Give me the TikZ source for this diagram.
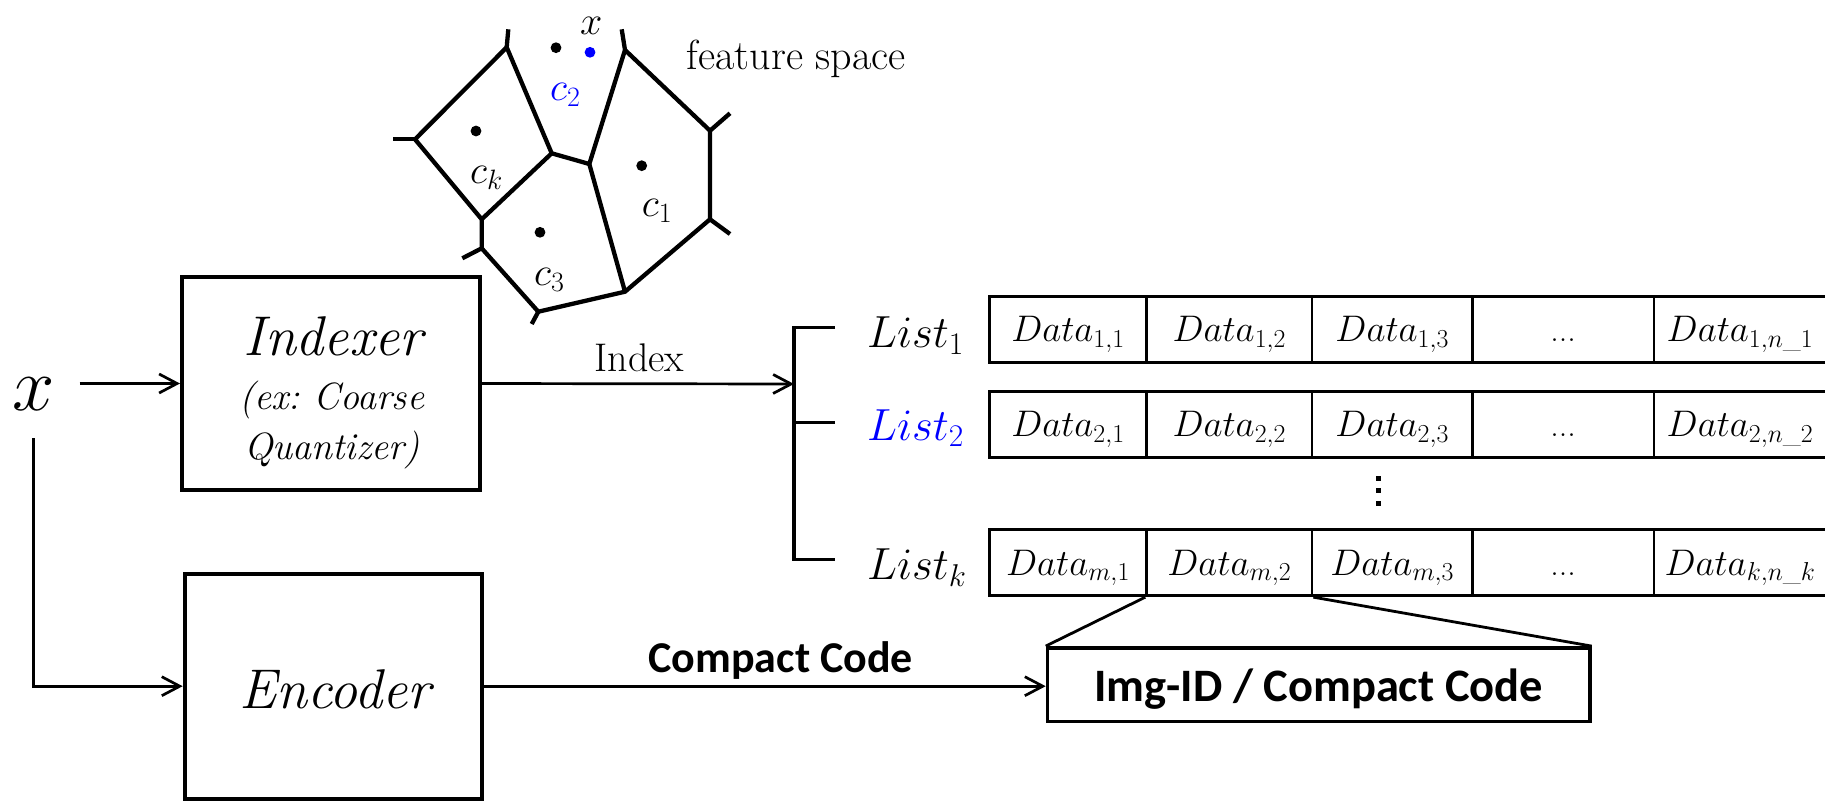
\documentclass[tikz,border=0pt]{standalone}
\usepackage{fix-cm}
\usepackage{amsmath}
\usepackage{fontspec}
\newfontfamily\calfont{Carlito}
\usetikzlibrary{arrows.meta}
\definecolor{ptblue}{RGB}{0,0,255}
\newcommand\setfs[1]{\fontsize{#1}{#1}\selectfont}

\begin{document}
\begin{tikzpicture}[x=1pt,y=-1pt,
  box/.style={draw, line width=4pt, inner sep=0pt},
  cell/.style={draw, line width=2.7pt, minimum height=66pt, inner sep=0pt,
    text height=27pt, text depth=2pt, font=\setfs{37}},
  colA/.style={cell, minimum width=157.4pt},
  colB/.style={cell, minimum width=165.3pt},
  colC/.style={cell, minimum width=160.3pt},
  colD/.style={cell, minimum width=181.7pt, font=\setfs{34}},
  colE/.style={cell, minimum width=172pt},
  conn/.style={line width=2.7pt, -{Straight Barb[length=18pt,width=19pt]}},
  vor/.style={line width=4.3pt, line join=round},
  lbl/.style={anchor=base west, inner sep=0pt},
  ptdot/.style={radius=5.4pt}
]
\useasboundingbox (0,0) rectangle (1825,803);

% ---------- Voronoi cells of the feature space ----------
\coordinate (A)  at (506.7,47.3);
\coordinate (B)  at (625,50);
\coordinate (L)  at (415,139.3);
\coordinate (CL) at (551.7,153.3);
\coordinate (CR) at (589.3,164);
\coordinate (RU) at (710,130.7);
\coordinate (RL) at (710,219.3);
\coordinate (J)  at (481.7,219.3);
\coordinate (LL) at (481.7,248.3);
\coordinate (BO) at (538.3,311.7);
\coordinate (BR) at (625,291.7);

\draw[vor] (A) -- (L) -- (J) -- (LL) -- (BO) -- (BR) -- (RL) -- (RU) -- (B) -- (CR) -- (CL) -- (A);
\draw[vor] (J) -- (CL);
\draw[vor] (CR) -- (BR);
% open rays leaving the drawn region
\draw[vor] (A) -- (508.3,29.3);
\draw[vor] (B) -- (621.7,29.3);
\draw[vor] (L) -- (392.7,139.3);
\draw[vor] (RU) -- (730,113.3);
\draw[vor] (RL) -- (730,234);
\draw[vor] (LL) -- (462.3,258.3);
\draw[vor] (BO) -- (531.7,324);

% centroids and the query point
\fill (556,47.7) circle[ptdot];
\fill[ptblue] (590,52.3) circle[ptdot];
\fill (476,131) circle[ptdot];
\fill (641.7,165.7) circle[ptdot];
\fill (540,232.3) circle[ptdot];

\node[lbl, font=\setfs{40}] (qx) at (580,34.3) {$x$};
\node[lbl, font=\setfs{40}, text=ptblue] (c2) at (550,100) {$c_2$};
\node[lbl, font=\setfs{40}] (ck) at (470,183.3) {$c_k$};
\node[lbl, font=\setfs{40}] (c1) at (641.7,216) {$c_1$};
\node[lbl, font=\setfs{40}] (c3) at (534,285) {$c_3$};
\node[lbl, font=\setfs{42}] (fspace) at (686.7,69.3) {feature space};

% ---------- Input, indexer and encoder ----------
\node[anchor=base, inner sep=0pt, font=\setfs{76}] (xin) at (33.3,410) {$x$};

\node[box, minimum width=298pt, minimum height=213pt] (indexer) at (331,383.5) {};
\node[anchor=base, font=\itshape\setfs{56}] (idxname) at (333.3,355) {Indexer};
\node[anchor=base, font=\itshape\setfs{38}] (idxnote1) at (331.7,409.3) {(ex:~Coarse};
\node[anchor=base, font=\itshape\setfs{38}] (idxnote2) at (331.7,459.3) {Quantizer)};

\node[box, minimum width=297.3pt, minimum height=225pt] (encoder) at (333.3,686.2) {};
\node[anchor=base, font=\itshape\setfs{56}] (encname) at (335,708.5) {Encoder};

\draw[conn, shorten <=25pt] (xin.east |- indexer.west) -- (indexer.west);
\draw[conn, shorten <=28pt] (xin.south) |- (encoder.west);

% ---------- Inverted lists ----------
\coordinate (brk) at (794,384);
\coordinate (b1) at (794,327.3);
\coordinate (b2) at (794,422.3);
\coordinate (bk) at (794,559.3);
\draw[line width=3.3pt] ([xshift=41pt]b1) -- (b1) -- (bk) -- ([xshift=41pt]bk);
\draw[line width=3.3pt] (b2) -- ([xshift=41pt]b2);

\draw[conn] (indexer.east) -- (brk);
\node[anchor=base, font=\setfs{40}] (idxlabel) at (639.3,371.7) {Index};

\node[lbl, font=\setfs{45}] (list1) at (867,347.3) {$List_1$};
\node[lbl, font=\setfs{45}, text=ptblue] (list2) at (867,440) {$List_2$};
\node[lbl, font=\setfs{45}] (listk) at (867,579.3) {$List_k$};

\node[colA] (d11) at (1068,329.2)   {$Data_{1,1}$};
\node[colB] (d12) at (1229.3,329.2) {$Data_{1,2}$};
\node[colC] (d13) at (1392.2,329.2) {$Data_{1,3}$};
\node[colD] (d14) at (1563.2,329.2) {...};
\node[colE] (d15) at (1740,329.2)   {$Data_{1,n\_1}$};

\node[colA] (d21) at (1068,424.3)   {$Data_{2,1}$};
\node[colB] (d22) at (1229.3,424.3) {$Data_{2,2}$};
\node[colC] (d23) at (1392.2,424.3) {$Data_{2,3}$};
\node[colD] (d24) at (1563.2,424.3) {...};
\node[colE] (d25) at (1740,424.3)   {$Data_{2,n\_2}$};

\node[colA] (d31) at (1068,562.8)   {$Data_{m,1}$};
\node[colB] (d32) at (1229.3,562.8) {$Data_{m,2}$};
\node[colC] (d33) at (1392.2,562.8) {$Data_{m,3}$};
\node[colD] (d34) at (1563.2,562.8) {...};
\node[colE] (d35) at (1740,562.8)   {$Data_{k,n\_k}$};

% vertical ellipsis between the lists
\foreach \yy in {476,488.4,501}
  \fill (1376,\yy) rectangle ++(4.6,4.6);

% ---------- Stored entry ----------
\node[box, line width=3.5pt, minimum width=542.5pt, minimum height=73.7pt,
      text height=34pt, text depth=0pt, font=\calfont\bfseries\setfs{46.5}]
      (store) at (1318.7,684.7) {Img-ID / Compact Code};

\draw[line width=2.8pt] (d32.south west) -- (store.north west);
\draw[line width=2.8pt] (d32.south east) -- (store.north east);

\draw[conn] (encoder.east) -- (store.west |- encoder.east);
\node[anchor=base, font=\calfont\bfseries\setfs{44}] (cclabel) at (780.8,672.7) {Compact Code};
\end{tikzpicture}
\end{document}
